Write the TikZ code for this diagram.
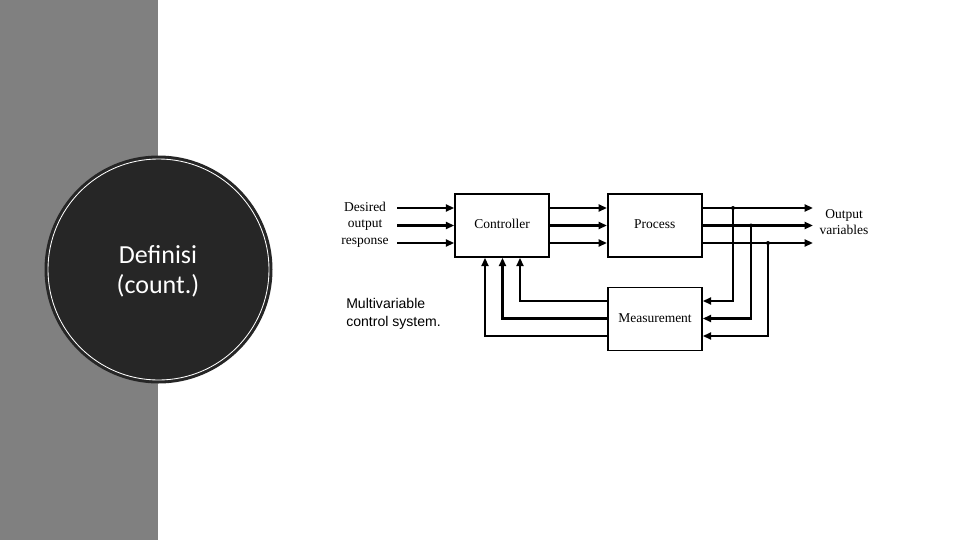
\documentclass[tikz,border=0pt]{standalone}
\usepackage{fontspec}
\setmainfont{Liberation Serif}
\setsansfont{Liberation Sans}
\newfontfamily\slidefont{Carlito}
\usetikzlibrary{arrows.meta}
\definecolor{stripgray}{RGB}{128,128,128}
\definecolor{discdark}{RGB}{38,38,38}

\begin{document}
\begin{tikzpicture}[x=0.025cm, y=-0.025cm,
    blockbox/.style={draw, line width=1.1pt, minimum width=2.35cm, minimum height=1.575cm,
      inner sep=0pt, text height=0.23cm, text depth=0.08cm, font=\fontsize{9.6}{11}\selectfont},
    flow/.style={line width=1.5pt, -{Triangle[length=6pt, width=5pt]}},
    wire/.style={line width=1.5pt},
    lbl/.style={inner sep=0pt, font=\fontsize{9.6}{11}\selectfont}]
  \useasboundingbox (0,0) rectangle (960,540);
  % slide background
  \fill[stripgray] (0,0) rectangle (158,540);
  \fill[discdark] (158.5,269.5) circle[radius=114];
  \draw[white, line width=0.6pt] (158.5,269.5) circle[radius=110.5];
  \node[text=white, align=center, font=\slidefont\fontsize{18.5}{21.5}\selectfont] (title)
    at (158,271) {Definisi\\(count.)};
  % the blocks
  \node[blockbox] (ctrl) at (502,225.5) {Controller};
  \node[blockbox] (proc) at (654.75,225.5) {Process};
  \node[blockbox] (meas) at (655,319) {Measurement};
  % forward paths
  \foreach \y [count=\i] in {208,225.5,243} {
    \coordinate (in\i) at (397,\y);
    \coordinate (out\i) at (813,\y);
    \draw[flow] (in\i) -- (in\i -| ctrl.west);
    \draw[flow] (in\i -| ctrl.east) -- (in\i -| proc.west);
    \draw[flow] (in\i -| proc.east) -- (out\i);
  }
  % taps down to the measurement block
  \foreach \x/\ym [count=\i] in {733/301,751/318.5,768/336} {
    \coordinate (tap\i) at (\x,\ym);
    \fill (tap\i |- out\i) circle[radius=2];
    \draw[flow] (tap\i |- out\i) -- (tap\i) -- (tap\i -| meas.east);
  }
  % feedback to the controller
  \foreach \x/\ym [count=\i] in {520/301,502.5/318.5,485/336} {
    \coordinate (fb\i) at (\x,\ym);
    \draw[flow] (fb\i -| meas.west) -- (fb\i) -- (fb\i |- ctrl.south);
  }
  % labels
  \foreach \t/\y [count=\i] in {Desired/211.5,output/227,response/244} {
    \node[lbl, anchor=base] (want\i) at (365,\y) {\t};
  }
  \node[lbl, anchor=base] (outa) at (844,218.3) {Output};
  \node[lbl, anchor=base] (outb) at (844,234.3) {variables};
  \node[lbl, anchor=north west, align=left, font=\sffamily\fontsize{10}{12.5}\selectfont]
    (caption) at (346,298) {Multivariable\\control system.};
\end{tikzpicture}
\end{document}
